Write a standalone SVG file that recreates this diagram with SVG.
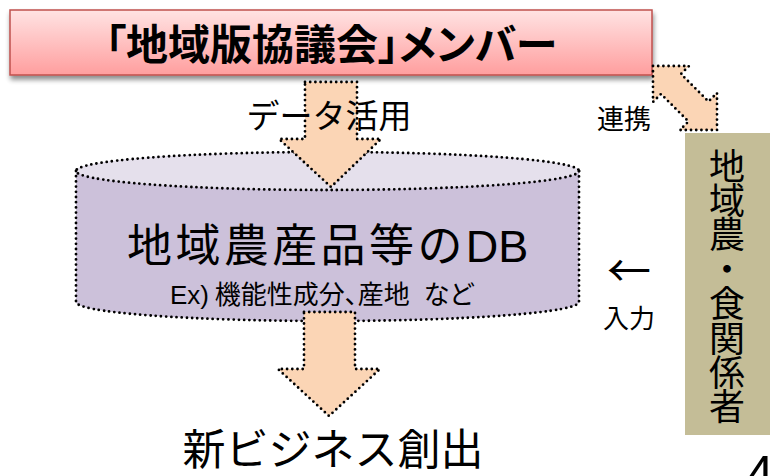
<svg xmlns="http://www.w3.org/2000/svg" width="770" height="476" viewBox="0 0 770 476">
<defs>
<linearGradient id="titleGrad" x1="0" y1="0" x2="0" y2="1">
<stop offset="0" stop-color="#FFE3E3"/>
<stop offset="1" stop-color="#FF9E9E"/>
</linearGradient>
<filter id="shadow" x="-5%" y="-20%" width="110%" height="160%">
<feGaussianBlur in="SourceAlpha" stdDeviation="2.5"/>
<feOffset dx="1" dy="4" result="b"/>
<feComponentTransfer><feFuncA type="linear" slope="0.45"/></feComponentTransfer>
<feMerge><feMergeNode/><feMergeNode in="SourceGraphic"/></feMerge>
</filter>
</defs>
<style>
.jp{font-family:"Noto Sans CJK JP","Noto Sans CJK SC",sans-serif;fill:#000}
.lat{font-family:"Liberation Sans",Arial,sans-serif}
.palt{font-feature-settings:"palt" 1}
.dot{stroke:#000;stroke-width:2.8;stroke-dasharray:0 5.2;stroke-linecap:round;stroke-linejoin:round}
.arrow{fill:#FBD5B5}
</style>
<rect width="770" height="476" fill="#FFFFFF"/>

<g id="title">
<rect x="10" y="10" width="642" height="65" fill="url(#titleGrad)" stroke="#C0504D" stroke-width="1.5" filter="url(#shadow)"/>
<text class="jp palt" x="331" y="60" font-size="42" font-weight="bold" text-anchor="middle">「地域版協議会」メンバー</text>
</g>

<g id="db">
<path d="M76,171 L76,302 A251.5,19 0 0 0 579,302 L579,171 A251.5,19 0 0 0 76,171 Z" fill="#CCC1DA"/>
<ellipse cx="327.5" cy="171" rx="251.5" ry="19" fill="#E5E0EC" class="dot"/>
<path d="M76,171 L76,302 A251.5,19 0 0 0 579,302 L579,171" fill="none" class="dot"/>
<text class="jp" x="127" y="262" font-size="45" letter-spacing="3.4">地域農産品等の<tspan class="lat" letter-spacing="0">DB</tspan></text>
<text class="jp palt" x="170" y="304" font-size="26"><tspan class="lat">Ex)</tspan> 機能性成分、産地 <tspan dx="8">など</tspan></text>
</g>

<g id="partners">
<rect x="685" y="133" width="90" height="302" fill="#C4BD97"/>
<text class="jp" x="727" y="148" font-size="36" writing-mode="vertical-rl" letter-spacing="-1.6">地域農・食関係者</text>
</g>

<g id="connectors">
<polygon class="arrow dot" points="305,82 357,82 357,139 381,139 331,187 279,139 305,139"/>
<polygon class="arrow dot" points="304,312 355,312 355,369 380,369 329,416 278,369 304,369"/>
<polygon class="arrow dot" points="653,66 689,66 681,74 708.5,101.5 717,93 717,130 680,130 688.5,121.5 661,94 653,102"/>
</g>

<g id="labels">
<text class="jp" x="329" y="128" font-size="33" text-anchor="middle">データ活用</text>
<text class="jp" x="597" y="129" font-size="27">連携</text>
<text class="jp" x="629" y="287" font-size="44" text-anchor="middle">←</text>
<text class="jp" x="629" y="328" font-size="26" text-anchor="middle">入力</text>
<text class="jp" x="333" y="465" font-size="43" text-anchor="middle">新ビジネス創出</text>
<text class="lat" x="746" y="491" font-size="50" fill="#000">4</text>
</g>
</svg>
